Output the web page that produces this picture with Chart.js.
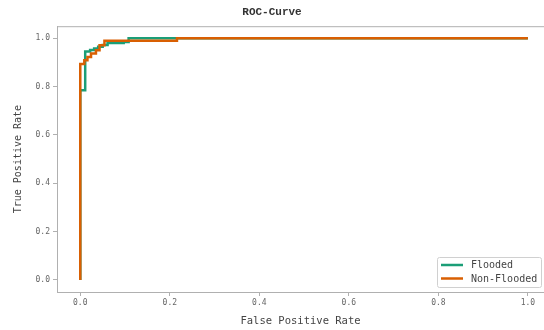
<!DOCTYPE html>
<html>
<head>
<meta charset="utf-8">
<script src="https://cdn.jsdelivr.net/npm/chart.js@4.4.0/dist/chart.umd.min.js"></script>
<style>
html,body{margin:0;padding:0;background:#fff;}
#wrap{width:544px;height:330px;position:relative;}
</style>
</head>
<body>
<div id="wrap"><canvas id="c" width="544" height="330"></canvas></div>
<script>
// ROC curve data (step points)
const floodedFPR = [0, 0, 0.011, 0.011, 0.022, 0.022, 0.031, 0.031, 0.04, 0.04, 0.05, 0.05, 0.061, 0.061, 0.097, 0.097, 0.108, 0.108, 1.0];
const floodedTPR = [0, 0.785, 0.785, 0.945, 0.945, 0.952, 0.952, 0.958, 0.958, 0.965, 0.965, 0.972, 0.972, 0.98, 0.98, 0.985, 0.985, 1.0, 1.0];
const nonFloodedFPR = [0, 0, 0.009, 0.009, 0.016, 0.016, 0.024, 0.024, 0.035, 0.035, 0.043, 0.043, 0.054, 0.054, 0.216, 0.216, 1.0];
const nonFloodedTPR = [0, 0.894, 0.894, 0.909, 0.909, 0.923, 0.923, 0.937, 0.937, 0.95, 0.95, 0.971, 0.971, 0.99, 0.99, 1.0, 1.0];
const seriesNames = ["Flooded", "Non-Flooded"];
const seriesColors = ["#1b9e77", "#d95f02"];
const tickValues = [0, 0.2, 0.4, 0.6, 0.8, 1.0];

const MONO = "'DejaVu Sans Mono', monospace";
const spine = '#b0b0b0';

function pts(xs, ys){ return xs.map((x,i)=>({x:x, y:ys[i]})); }

const legendPlugin = {
  id: 'insideLegend',
  afterDraw(chart){
    const ctx = chart.ctx;
    const ca = chart.chartArea;
    ctx.save();
    ctx.strokeStyle = spine; ctx.lineWidth = 1;
    ctx.beginPath(); ctx.moveTo(ca.left, ca.top + 0.5); ctx.lineTo(ca.right, ca.top + 0.5); ctx.stroke();
    const bx = 437, by = 257, bw = 104, bh = 30;
    ctx.fillStyle = 'rgba(255,255,255,0.9)';
    ctx.strokeStyle = '#d0d0d0';
    ctx.beginPath();
    ctx.roundRect(bx + 0.5, by + 0.5, bw, bh, 2);
    ctx.fill(); ctx.stroke();
    ctx.font = "10px " + MONO;
    ctx.textBaseline = 'middle';
    ctx.textAlign = 'left';
    seriesNames.forEach((n, i) => {
      const y = by + 8 + i * 13.5;
      ctx.strokeStyle = seriesColors[i]; ctx.lineWidth = 2.5;
      ctx.beginPath(); ctx.moveTo(bx + 4, y); ctx.lineTo(bx + 26, y); ctx.stroke();
      ctx.fillStyle = '#444';
      ctx.fillText(n, bx + 34, y + 0.5);
    });
    ctx.restore();
  }
};

new Chart(document.getElementById('c'), {
  type: 'line',
  data: {
    datasets: [
      { label: seriesNames[0], data: pts(floodedFPR, floodedTPR), borderColor: seriesColors[0], borderWidth: 2.5, pointRadius: 0, tension: 0, fill: false, order: 2 },
      { label: seriesNames[1], data: pts(nonFloodedFPR, nonFloodedTPR), borderColor: seriesColors[1], borderWidth: 2.5, pointRadius: 0, tension: 0, fill: false, order: 1 }
    ]
  },
  options: {
    responsive: false,
    animation: false,
    layout: { padding: { left: 0, right: 0, top: 0, bottom: 0 } },
    plugins: {
      legend: { display: false },
      tooltip: { enabled: false },
      title: {
        display: true, text: 'ROC-Curve', color: '#333',
        font: { family: "'Liberation Mono', monospace", size: 11, weight: 'bold', lineHeight: 1.2 },
        padding: { top: 6, bottom: 7 }
      }
    },
    scales: {
      x: {
        type: 'linear', min: -0.052, max: 1.036,
        afterBuildTicks: s => { s.ticks = tickValues.map(v => ({ value: v })); },
        afterFit: s => { s.height = 38; },
        ticks: { callback: v => Number(v).toFixed(1), color: '#666', font: { family: MONO, size: 8 }, padding: 2, maxRotation: 0 },
        grid: { drawOnChartArea: false, drawTicks: true, tickLength: 4, color: spine },
        border: { display: true, color: spine, width: 1 },
        title: { display: true, text: 'False Positive Rate', color: '#444', font: { family: MONO, size: 10.5, lineHeight: 1.2 }, padding: { top: 0, bottom: 2 } }
      },
      y: {
        type: 'linear', min: -0.05, max: 1.05,
        afterBuildTicks: s => { s.ticks = tickValues.map(v => ({ value: v })); },
        afterFit: s => { s.width = 57; },
        ticks: { callback: v => Number(v).toFixed(1), color: '#666', font: { family: MONO, size: 8 }, padding: 3 },
        grid: { drawOnChartArea: false, drawTicks: true, tickLength: 4, color: spine },
        border: { display: true, color: spine, width: 1 },
        title: { display: true, text: 'True Positive Rate', color: '#444', font: { family: MONO, size: 10, lineHeight: 1.2 }, padding: { top: 12, bottom: 0 } }
      }
    }
  },
  plugins: [legendPlugin]
});
</script>
</body>
</html>
